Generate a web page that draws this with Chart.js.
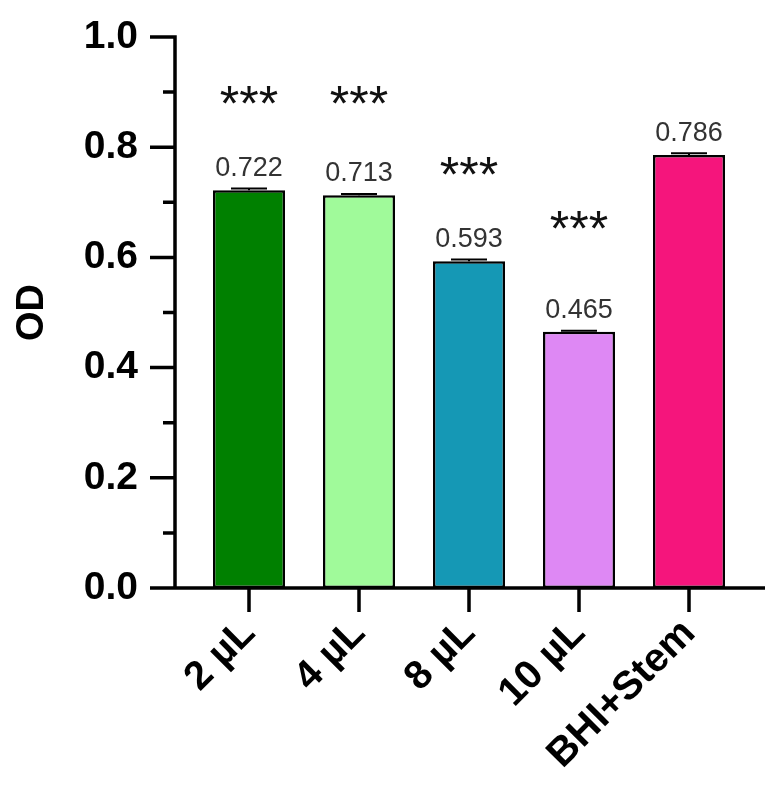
<!DOCTYPE html>
<html>
<head>
<meta charset="utf-8">
<script src="https://cdn.jsdelivr.net/npm/chart.js@4.4.1/dist/chart.umd.min.js"></script>
<style>
  html, body { margin: 0; padding: 0; background: #ffffff; }
  #wrap { width: 773px; height: 800px; position: relative; }
</style>
</head>
<body>
<div id="wrap"><canvas id="c" width="773" height="800"></canvas></div>
<script>
// ---- data ----
const categories = ['2 \u00b5L', '4 \u00b5L', '8 \u00b5L', '10 \u00b5L', 'BHI+Stem'];
const odValues = [0.722, 0.713, 0.593, 0.465, 0.786];
const odErrors = [0.003, 0.002, 0.003, 0.002, 0.003];
const valueLabels = ['0.722', '0.713', '0.593', '0.465', '0.786'];
const starLabels = ['***', '***', '***', '***', ''];
const starLevels = [0.898, 0.898, 0.769, 0.672, null];
const barColors = ['#008000', '#a0fa9a', '#1598b5', '#de88f4', '#f5157c'];
const yMajorTicks = [0, 0.2, 0.4, 0.6, 0.8, 1.0];
const yMinorTicks = [0.1, 0.3, 0.5, 0.7, 0.9];
const yAxisTitle = 'OD';

const FONT = '"Liberation Sans", Arial, Helvetica, sans-serif';

const annotatePlugin = {
  id: 'annotate',
  afterDatasetsDraw(chart) {
    const { ctx, chartArea, scales } = chart;
    const xs = scales.x, ys = scales.y;
    const meta = chart.getDatasetMeta(0);
    const axisX = chartArea.left - 19;
    const y0 = ys.getPixelForValue(0);
    const yTop = ys.getPixelForValue(1);
    ctx.save();
    ctx.strokeStyle = '#000';
    ctx.lineCap = 'butt';

    // error bars (caps)
    ctx.lineWidth = 2;
    meta.data.forEach((bar, i) => {
      const half = bar.width * 0.25;
      const top = ys.getPixelForValue(odValues[i] + odErrors[i]);
      const vy = ys.getPixelForValue(odValues[i]);
      ctx.beginPath();
      ctx.moveTo(bar.x, vy);
      ctx.lineTo(bar.x, top);
      ctx.moveTo(bar.x - half, top);
      ctx.lineTo(bar.x + half, top);
      ctx.stroke();
    });

    // axes
    ctx.lineWidth = 3.5;
    ctx.beginPath();
    ctx.moveTo(axisX, yTop - 1.75);
    ctx.lineTo(axisX, y0);
    yMajorTicks.forEach(v => {
      const py = ys.getPixelForValue(v);
      ctx.moveTo(axisX - 25, py);
      ctx.lineTo(axisX, py);
    });
    yMinorTicks.forEach(v => {
      const py = ys.getPixelForValue(v);
      ctx.moveTo(axisX - 12, py);
      ctx.lineTo(axisX, py);
    });
    ctx.moveTo(axisX - 25, y0);
    ctx.lineTo(chartArea.right + 21, y0);
    categories.forEach((c, i) => {
      const px = xs.getPixelForValue(i);
      ctx.moveTo(px, y0);
      ctx.lineTo(px, y0 + 24);
    });
    ctx.stroke();

    // value labels
    ctx.fillStyle = '#333333';
    ctx.font = '27px ' + FONT;
    ctx.textAlign = 'center';
    ctx.textBaseline = 'middle';
    meta.data.forEach((bar, i) => {
      const top = ys.getPixelForValue(odValues[i] + odErrors[i]);
      ctx.fillText(valueLabels[i], bar.x, top - 20);
    });

    // significance stars
    ctx.fillStyle = '#111111';
    ctx.font = '50px ' + FONT;
    ctx.textBaseline = 'alphabetic';
    meta.data.forEach((bar, i) => {
      if (!starLabels[i]) return;
      const py = ys.getPixelForValue(starLevels[i]);
      ctx.fillText(starLabels[i], bar.x, py + 28);
    });
    ctx.restore();
  }
};

new Chart(document.getElementById('c'), {
  type: 'bar',
  data: {
    labels: categories,
    datasets: [{
      data: odValues,
      backgroundColor: barColors,
      borderColor: '#000000',
      borderWidth: 2.5,
      borderSkipped: false,
      barPercentage: 0.655,
      categoryPercentage: 1.0
    }]
  },
  options: {
    responsive: false,
    animation: false,
    devicePixelRatio: 1,
    layout: { padding: { left: 0, right: 29, top: 37, bottom: 0 } },
    plugins: {
      legend: { display: false },
      tooltip: { enabled: false },
      title: { display: false }
    },
    scales: {
      x: {
        type: 'category',
        offset: true,
        grid: { display: false, drawTicks: false },
        border: { display: false },
        ticks: {
          color: '#000',
          font: { family: FONT, size: 40, weight: 'bold' },
          minRotation: 45,
          maxRotation: 45,
          padding: 22,
          autoSkip: false
        },
        afterFit(scale) { scale.height = 212; }
      },
      y: {
        min: 0,
        max: 1.0,
        grid: { display: false, drawTicks: false },
        border: { display: false },
        ticks: {
          stepSize: 0.2,
          color: '#000',
          font: { family: FONT, size: 39, weight: 'bold' },
          padding: 56,
          callback: v => Number(v).toFixed(1)
        },
        title: {
          display: true,
          text: yAxisTitle,
          color: '#000',
          font: { family: FONT, size: 38, weight: 'bold' },
          padding: { top: 10, bottom: 0 }
        },
        afterFit(scale) {
          scale.width = 194;
          scale.paddingTop = 0;
          scale.paddingBottom = 0;
        }
      }
    }
  },
  plugins: [annotatePlugin]
});
</script>
</body>
</html>
